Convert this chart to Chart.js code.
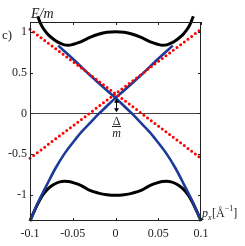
<!DOCTYPE html>
<html>
<head>
<meta charset="utf-8">
<script src="https://cdn.jsdelivr.net/npm/chart.js@4.4.0/dist/chart.umd.min.js"></script>
<style>
  html, body { margin: 0; padding: 0; background: #fff; }
  #wrap { width: 245px; height: 246px; }
</style>
</head>
<body>
<div id="wrap"><canvas id="bands" width="245" height="246"></canvas></div>
<script>
// ---------- dados ----------
const xTicks = [-0.1, -0.05, 0, 0.05, 0.1];
const yTicks = [-1, -0.5, 0, 0.5, 1];

// banda superior (preta)
const upperX = [-0.091, -0.088, -0.085, -0.08, -0.075, -0.07, -0.065, -0.06, -0.055, -0.05, -0.04, -0.03, -0.02, -0.01, 0,
                0.01, 0.02, 0.03, 0.04, 0.05, 0.055, 0.06, 0.065, 0.07, 0.075, 0.08, 0.085, 0.088, 0.091];
const upperE = [1.19, 1.11, 1.05, 0.98, 0.93, 0.89, 0.86, 0.84, 0.835, 0.845, 0.88, 0.93, 0.97, 0.995, 1.0,
                0.995, 0.97, 0.93, 0.88, 0.845, 0.835, 0.84, 0.86, 0.89, 0.93, 0.98, 1.05, 1.11, 1.19];

// banda inferior (preta)
const lowerX = [-0.1, -0.095, -0.09, -0.085, -0.08, -0.075, -0.07, -0.065, -0.06, -0.055, -0.05, -0.04, -0.03, -0.02, -0.01, 0,
                0.01, 0.02, 0.03, 0.04, 0.05, 0.055, 0.06, 0.065, 0.07, 0.075, 0.08, 0.085, 0.09, 0.095, 0.1];
const lowerE = [-1.32, -1.2, -1.09, -1.0, -0.935, -0.89, -0.86, -0.84, -0.833, -0.835, -0.848, -0.885, -0.945, -0.978, -0.998, -1.005,
                -0.998, -0.978, -0.945, -0.885, -0.848, -0.835, -0.833, -0.84, -0.86, -0.89, -0.935, -1.0, -1.09, -1.2, -1.32];

// ramos azuis
const blueDownX = [-0.067, -0.05, -0.03, -0.01, 0, 0.01, 0.02, 0.03, 0.04, 0.05, 0.06, 0.07, 0.08, 0.09, 0.1];
const blueDownE = [0.83, 0.67, 0.47, 0.28, 0.19, 0.09, -0.01, -0.12, -0.23, -0.36, -0.5, -0.67, -0.87, -1.08, -1.32];
const blueUpX = [-0.1, -0.09, -0.08, -0.07, -0.06, -0.05, -0.04, -0.03, -0.02, -0.01, 0, 0.01, 0.03, 0.05, 0.067];
const blueUpE = [-1.32, -1.08, -0.87, -0.67, -0.5, -0.36, -0.23, -0.12, -0.01, 0.09, 0.19, 0.28, 0.47, 0.67, 0.83];

// retas vermelhas pontilhadas
const redX = [-0.1, 0.1];
const redDownE = [1.03, -0.55];
const redUpE = [-0.55, 1.03];

// seta do gap
const gapTop = 0.19;

const pts = (xs, ys) => xs.map((x, i) => ({ x, y: ys[i] }));

const serif = '"Liberation Serif", "DejaVu Serif", serif';

// ---------- plugin: moldura, ticks internos, seta e textos ----------
const framePlugin = {
  id: 'frame',
  afterDraw(chart) {
    const { ctx, chartArea: a, scales: { x, y } } = chart;
    ctx.save();
    ctx.strokeStyle = '#222';
    ctx.lineWidth = 1;
    ctx.strokeRect(a.left + 0.5, a.top + 0.5, a.right - a.left - 1, a.bottom - a.top - 1);
    ctx.beginPath();
    xTicks.forEach(v => {
      const px = Math.round(x.getPixelForValue(v)) + 0.5;
      ctx.moveTo(px, a.bottom); ctx.lineTo(px, a.bottom - 3);
      ctx.moveTo(px, a.top); ctx.lineTo(px, a.top + 3);
    });
    yTicks.forEach(v => {
      const py = Math.round(y.getPixelForValue(v)) + 0.5;
      ctx.moveTo(a.left, py); ctx.lineTo(a.left + 3, py);
      ctx.moveTo(a.right, py); ctx.lineTo(a.right - 3, py);
    });
    ctx.stroke();

    // seta dupla entre 0 e o cruzamento
    const cx = Math.round(x.getPixelForValue(0)) + 0.5;
    const y0 = y.getPixelForValue(0);
    const y1 = y.getPixelForValue(gapTop);
    ctx.strokeStyle = '#000';
    ctx.fillStyle = '#000';
    ctx.lineWidth = 1;
    ctx.beginPath();
    ctx.moveTo(cx, y1 + 3); ctx.lineTo(cx, y0 - 3);
    ctx.stroke();
    ctx.beginPath();
    ctx.moveTo(cx, y1 + 1); ctx.lineTo(cx - 2.5, y1 + 5); ctx.lineTo(cx + 2.5, y1 + 5); ctx.closePath();
    ctx.moveTo(cx, y0 - 1); ctx.lineTo(cx - 2.5, y0 - 5); ctx.lineTo(cx + 2.5, y0 - 5); ctx.closePath();
    ctx.fill();

    // Δ/m
    ctx.fillStyle = '#222';
    ctx.textAlign = 'center';
    ctx.textBaseline = 'alphabetic';
    ctx.font = `12px ${serif}`;
    ctx.fillText('Δ', cx, 125);
    ctx.fillRect(cx - 4.5, 126, 9, 1);
    ctx.font = `italic 12px ${serif}`;
    ctx.fillText('m', cx, 137);

    // rótulos dos eixos
    ctx.textAlign = 'left';
    ctx.font = `italic 14px ${serif}`;
    ctx.fillText('E/m', 31, 18);
    ctx.font = `13px ${serif}`;
    ctx.fillText('c)', 2, 39);

    let px = 202;
    ctx.font = `italic 12px ${serif}`;
    ctx.fillText('p', px, 217);
    px += ctx.measureText('p').width;
    ctx.font = `italic 8px ${serif}`;
    ctx.fillText('x', px, 220);
    px += ctx.measureText('x').width + 0.5;
    ctx.font = `12px ${serif}`;
    ctx.fillText('[Å', px, 217);
    px += ctx.measureText('[Å').width;
    ctx.font = `8px ${serif}`;
    ctx.fillText('−1', px, 211);
    px += ctx.measureText('−1').width;
    ctx.font = `12px ${serif}`;
    ctx.fillText(']', px, 217);
    ctx.restore();
  }
};

const line = (data, color, width, extra) => Object.assign({
  data, borderColor: color, borderWidth: width, pointRadius: 0,
  fill: false, tension: 0.4, cubicInterpolationMode: 'monotone', clip: false
}, extra || {});

new Chart(document.getElementById('bands'), {
  type: 'line',
  data: {
    datasets: [
      line(pts(redX, redDownE), '#ff0000', 3, { borderDash: [0, 4.6], borderCapStyle: 'round', tension: 0, order: 0 }),
      line(pts(redX, redUpE), '#ff0000', 3, { borderDash: [0, 4.6], borderCapStyle: 'round', tension: 0, order: 0 }),
      line(pts(blueDownX, blueDownE), '#1c3a98', 2.6, { order: 1 }),
      line(pts(blueUpX, blueUpE), '#1c3a98', 2.6, { order: 1 }),
      line(pts(upperX, upperE), '#000', 3, { order: 2 }),
      line(pts(lowerX, lowerE), '#000', 3, { order: 2 })
    ]
  },
  options: {
    responsive: false,
    animation: false,
    devicePixelRatio: 1,
    layout: { padding: { top: 22, right: 44, left: 0, bottom: 0 } },
    plugins: { legend: { display: false }, tooltip: { enabled: false } },
    scales: {
      x: {
        type: 'linear', min: -0.1, max: 0.1,
        afterBuildTicks: s => { s.ticks = xTicks.map(v => ({ value: v })); },
        afterFit: s => { s.height = 25; },
        grid: { display: false, drawTicks: false },
        border: { display: false },
        ticks: { color: '#222', padding: 6, font: { family: serif, size: 12 }, callback: v => String(v), maxRotation: 0 }
      },
      y: {
        type: 'linear', min: -1.32, max: 1.12,
        afterBuildTicks: s => { s.ticks = yTicks.map(v => ({ value: v })); },
        afterFit: s => { s.width = 30; },
        grid: {
          drawTicks: false,
          lineWidth: 1,
          color: c => (c.tick && c.tick.value === 0) ? '#444' : 'rgba(0,0,0,0)'
        },
        border: { display: false },
        ticks: { color: '#222', padding: 3, font: { family: serif, size: 12 }, callback: v => String(v) }
      }
    }
  },
  plugins: [framePlugin]
});
</script>
</body>
</html>
